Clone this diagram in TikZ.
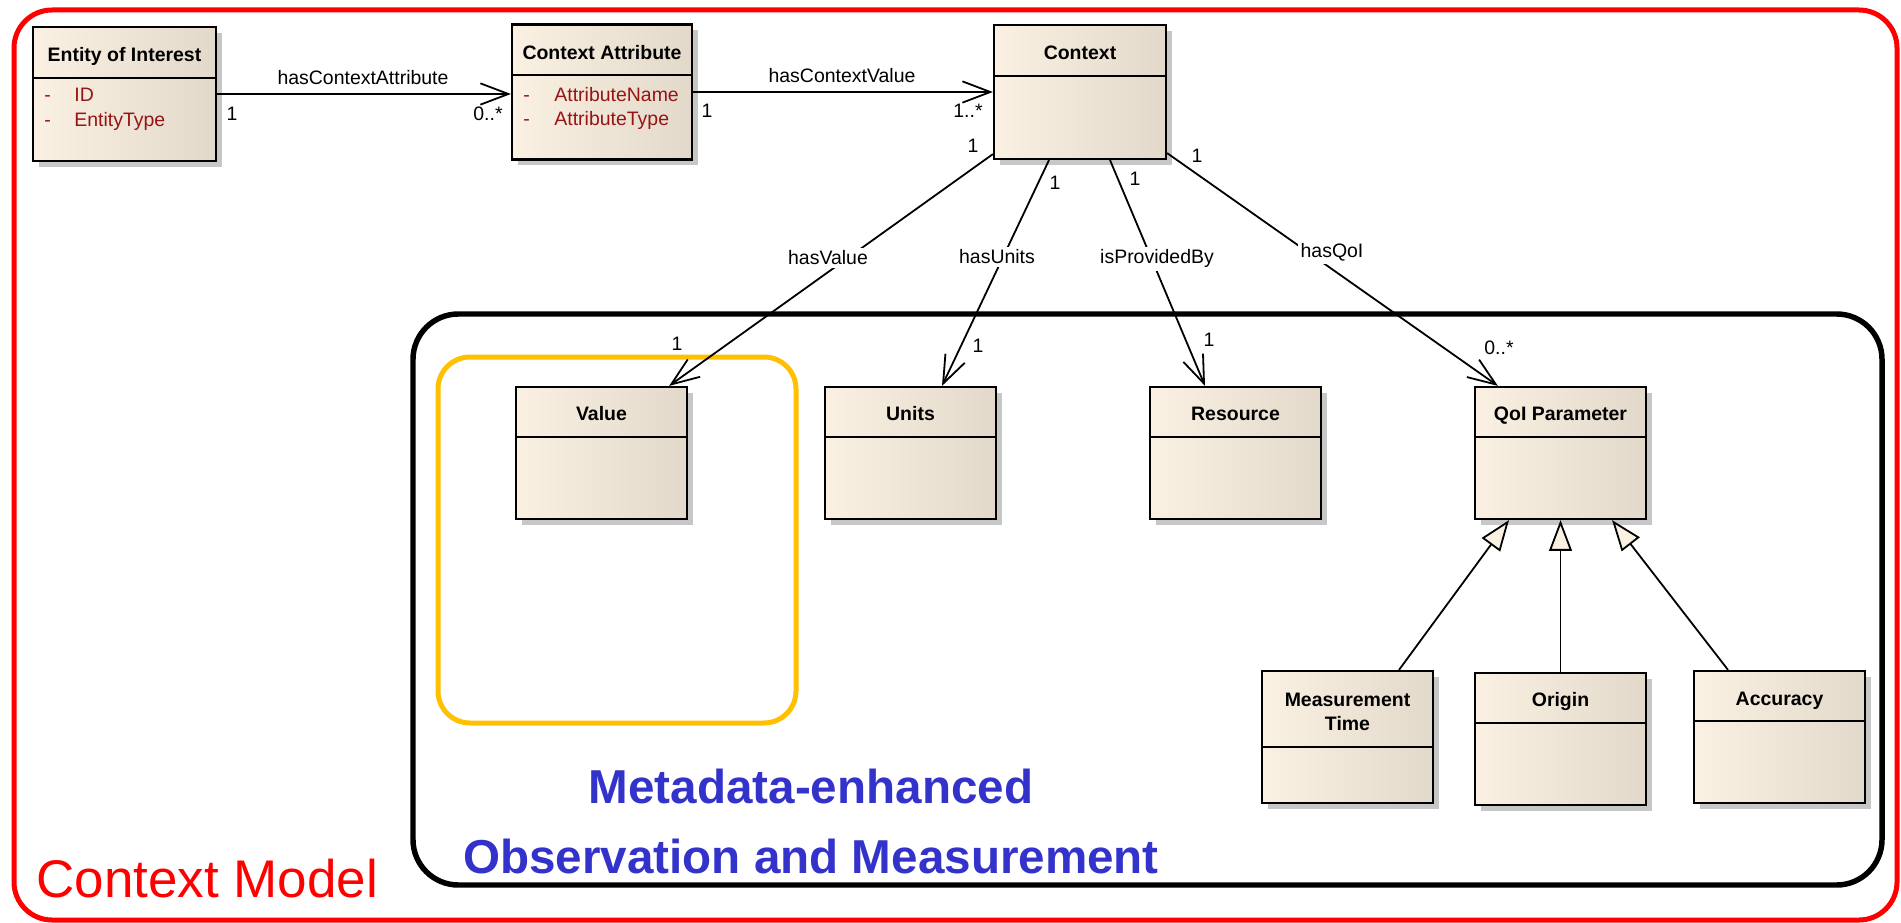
\documentclass[tikz,border=0pt]{standalone}
\usepackage{fontspec}
\setmainfont{Liberation Sans}
\usetikzlibrary{arrows.meta,calc,shadows}

\definecolor{clsL}{RGB}{250,241,227}
\definecolor{clsR}{RGB}{226,217,202}
\definecolor{attrred}{RGB}{150,20,20}
\definecolor{omblue}{RGB}{51,51,204}
\definecolor{hiyellow}{RGB}{255,192,0}

\tikzset{every picture/.style={line width=0.75pt}}
\tikzset{
  cls/.style={draw, line width=1.65pt, left color=clsL, middle color=clsL, right color=clsR,
    minimum width=128.25pt, minimum height=99pt, inner sep=0pt,
    drop shadow={shadow xshift=4.5pt, shadow yshift=-4.5pt, opacity=1, fill=black!22}},
  ttl/.style={font=\fontsize{14.6pt}{18pt}\selectfont\bfseries, inner sep=0.75pt, anchor=base},
  atr/.style={font=\fontsize{14.6pt}{18pt}\selectfont, text=attrred, inner sep=0.75pt, anchor=base west},
  lbl/.style={font=\fontsize{14.6pt}{18pt}\selectfont, inner sep=0.75pt, anchor=base},
  cut/.style={lbl, fill=white, inner sep=2pt},
  assoc/.style={line width=1.35pt, -{Straight Barb[length=21pt, width=16pt, line width=1.35pt]}},
  gen/.style={line width=1.35pt, -{Triangle[open, length=23pt, width=17pt, fill=clsL, line width=1.35pt]}},
}

\begin{document}
\begin{tikzpicture}[x=0.75pt,y=0.75pt,yscale=-1,xscale=1]
\useasboundingbox (0,0) rectangle (1901,923);

%Rounded Rect: Context Model
\draw [color=red, line width=3.75pt, rounded corners=28.5pt] (14,10) rectangle (1897,920);
%Rounded Rect: O&M
\draw [line width=4.1pt, rounded corners=34pt] (413,314) rectangle (1882,885);
%Rounded Rect: highlight
\draw [color=hiyellow, line width=3.75pt, rounded corners=24pt] (438,357) rectangle (796,723);

%Shape: Classes
\node [cls, minimum width=137.25pt, minimum height=100.5pt] (eoi) at (124.5,94) {};
\node [cls, minimum width=135pt, minimum height=101.25pt] (attr) at (602,92) {};
\node [cls, minimum width=129pt, minimum height=100.5pt] (ctx) at (1080,92) {};
\node [cls] (val) at (601.5,453) {};
\node [cls] (units) at (910.5,453) {};
\node [cls] (res) at (1235.5,453) {};
\node [cls] (qoi) at (1560.5,453) {};
\node [cls] (mt) at (1347.5,737) {};
\node [cls] (org) at (1560.5,739) {};
\node [cls] (acc) at (1779.5,737) {};

%Straight Lines: compartments
\foreach \c/\h in {eoi/52,attr/52,ctx/52,val/51,units/51,res/51,qoi/51,mt/77,org/51,acc/51}
  \draw [line width=1.65pt] ($(\c.north west)+(0,\h)$) -- ($(\c.north east)+(0,\h)$);

% Text Node
\node [ttl] (eoiT) at ($(eoi.north)+(0,36)$) {Entity of Interest};
\node [ttl] (attrT) at ($(attr.north)+(0,36)$) {Context Attribute};
\node [ttl] (ctxT) at ($(ctx.north)+(0,36)$) {Context};
\node [ttl] (valT) at ($(val.north)+(0,35)$) {Value};
\node [ttl] (unitsT) at ($(units.north)+(0,35)$) {Units};
\node [ttl] (resT) at ($(res.north)+(0,35)$) {Resource};
\node [ttl] (qoiT) at ($(qoi.north)+(0,35)$) {QoI Parameter};
\node [ttl, anchor=center, align=center] (mtT) at ($(mt.north)+(0,42)$) {Measurement\\Time};
\node [ttl] (orgT) at ($(org.north)+(0,35)$) {Origin};
\node [ttl] (accT) at ($(acc.north)+(0,36)$) {Accuracy};

% Text Node: attributes
\node [atr] (eoiA1) at ($(eoi.north west)+(11,76)$) {\makebox[22.5pt][l]{-}ID};
\node [atr] (eoiA2) at ($(eoi.north west)+(11,101)$) {\makebox[22.5pt][l]{-}EntityType};
\node [atr] (attrA1) at ($(attr.north west)+(11,78)$) {\makebox[23.25pt][l]{-}AttributeName};
\node [atr] (attrA2) at ($(attr.north west)+(11,102)$) {\makebox[23.25pt][l]{-}AttributeType};

%Straight Lines: associations
\draw [assoc] (eoi.east) -- (eoi.east -| attr.west);
\draw [assoc] (attr.east) -- (attr.east -| ctx.west);
\draw [assoc] ($(ctx.south west)+(0,-6)$) -- ($(val.north east)+(-19,0)$);
\draw [assoc] ($(ctx.south)+(-31,0)$) -- ($(units.north)+(31.5,0)$);
\draw [assoc] ($(ctx.south)+(30,0)$) -- ($(res.north)+(-30.5,0)$);
\draw [assoc] ($(ctx.south east)+(0,-7)$) -- ($(qoi.north west)+(24,0)$);

%Straight Lines: generalizations
\draw [gen] ($(mt.north)+(51.5,0)$) -- ($(qoi.south)+(-51.5,0)$);
\draw [gen] (org.north) -- (qoi.south);
\draw [gen] ($(acc.north)+(-51.5,0)$) -- ($(qoi.south)+(51.5,0)$);

% Text Node: role names
\node [lbl] (lCA) at (363,85) {hasContextAttribute};
\node [lbl] (lCV) at (842,83) {hasContextValue};
\node [cut] (lV) at (828,265) {hasValue};
\node [cut] (lU) at (997,264) {hasUnits};
\node [cut] (lP) at (1157,264) {isProvidedBy};
\node [cut] (lQ) at (1332,258) {hasQoI};

% Text Node: multiplicities
\node [lbl] (m1) at (232,121) {1};
\node [lbl] (m2) at (488,121) {0..*};
\node [lbl] (m3) at (707,118) {1};
\node [lbl] (m4) at (968,118) {1..*};
\node [lbl] (m5) at (973,153) {1};
\node [lbl] (m6) at (1055,190) {1};
\node [lbl] (m7) at (1135,186) {1};
\node [lbl] (m8) at (1197,163) {1};
\node [lbl] (m9) at (677,350) {1};
\node [lbl] (m10) at (978,353) {1};
\node [lbl] (m11) at (1209,346) {1};
\node [lbl] (m12) at (1499,354) {0..*};

% Text Node: captions
\node [anchor=base, inner sep=0pt, text=omblue, font=\fontsize{35.7pt}{40pt}\selectfont\bfseries] (omT1) at (811,803) {Metadata-enhanced};
\node [anchor=base, inner sep=0pt, text=omblue, font=\fontsize{35.7pt}{40pt}\selectfont\bfseries] (omT2) at (811,873) {Observation and Measurement};
\node [anchor=base west, inner sep=0pt, text=red, font=\fontsize{39.75pt}{44pt}\selectfont] (cmT) at (36,897) {Context Model};

\end{tikzpicture}
\end{document}
